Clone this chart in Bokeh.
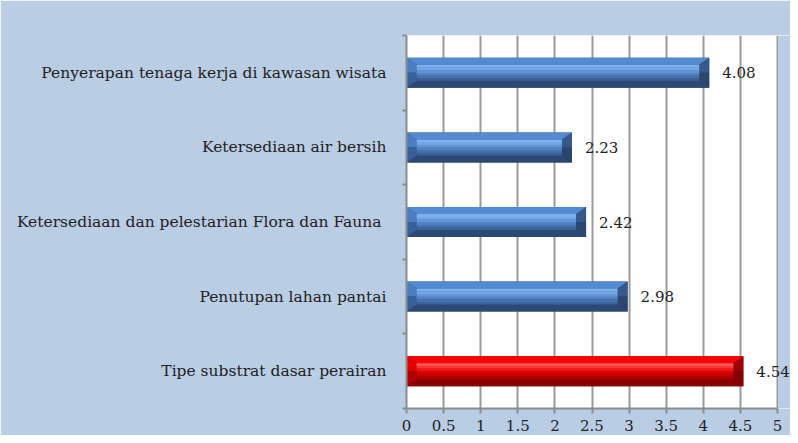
from bokeh.plotting import figure
from bokeh.models import (FixedTicker, NumeralTickFormatter, CustomJSTickFormatter,
                          Range1d, ColumnDataSource)
from bokeh.embed import file_html
from bokeh.resources import INLINE
from bokeh.core.properties import value

# ---------------- data ----------------
categories = [
    "Tipe substrat dasar perairan",
    "Penutupan lahan pantai",
    "Ketersediaan dan pelestarian Flora dan Fauna ",
    "Ketersediaan air bersih",
    "Penyerapan tenaga kerja di kawasan wisata",
]
scores = [4.54, 2.98, 2.42, 2.23, 4.08]
x_ticks = [0, 0.5, 1, 1.5, 2, 2.5, 3, 3.5, 4, 4.5, 5]
highlighted = [True, False, False, False, False]

# ---------------- styles ----------------
FONT = "DejaVu Serif"
BG = "#b9cde5"
W, H = 790, 435
ML, MT, MB = 406, 35, 27
AXIS_RIGHT_PX = 777          # where x = 5 sits
XMAX = 5.0
NCAT = len(categories)
PX_X = (AXIS_RIGHT_PX - ML) / XMAX
FW = W - ML
XR = FW / PX_X               # range end so frame reaches the right edge
FH = H - MT - MB
PX_Y = FH / NCAT
HALF = 15 / PX_Y
BX = 10 / PX_X
BY = 7 / PX_Y

blue = dict(base="#2c4973", top="#528bd2", bottom="#2c4973",
            left_u="#4a7ec2", left_l="#36609a",
            right_u="#36598b", right_l="#2a466e",
            face=["#7cb0ee", "#72a6e6", "#6296d6", "#5283c3", "#4672ad", "#3b6299"])
red = dict(base="#870000", top="#fa0000", bottom="#870000",
           left_u="#e00000", left_l="#b00000",
           right_u="#a00000", right_l="#850000",
           face=["#ff5a5a", "#ff3434", "#f41414", "#dc0000", "#c40000", "#ac0000"])

xs, ys, cols = [], [], []


def add(px, py, c):
    xs.append(px)
    ys.append(py)
    cols.append(c)


for i, (v, hl) in enumerate(zip(scores, highlighted)):
    pal = red if hl else blue
    c = i + 0.5
    y0, y1 = c - HALF, c + HALF
    add([0, v, v, 0], [y0, y0, y1, y1], pal["base"])
    add([0, v, v - BX, BX], [y1, y1, y1 - BY, y1 - BY], pal["top"])
    add([0, v, v - BX, BX], [y0, y0, y0 + BY, y0 + BY], pal["bottom"])
    add([0, 0, BX, BX], [c, y1, y1 - BY, c], pal["left_u"])
    add([0, 0, BX, BX], [y0, c, c, y0 + BY], pal["left_l"])
    add([v, v, v - BX, v - BX], [c, y1, y1 - BY, c], pal["right_u"])
    add([v, v, v - BX, v - BX], [y0, c, c, y0 + BY], pal["right_l"])
    fy1, fy0 = y1 - BY, y0 + BY
    n = len(pal["face"])
    step = (fy1 - fy0) / n
    for k, fc in enumerate(pal["face"]):
        ta = fy1 - k * step
        tb = fy1 - (k + 1) * step - (0.004 if k < n - 1 else 0)
        add([BX, v - BX, v - BX, BX], [tb, tb, ta, ta], fc)

p = figure(width=W, height=H, output_backend="svg", toolbar_location=None,
           x_range=Range1d(0, XR), y_range=Range1d(0, NCAT),
           min_border_left=ML, min_border_right=0, min_border_top=MT,
           min_border_bottom=MB)
p.border_fill_color = BG
p.background_fill_color = "white"
p.outline_line_color = None

# blue strip to the right of the plot area (x beyond 5)
p.quad(left=[XMAX + 1.2 / PX_X], right=[XR + 1], bottom=[0], top=[NCAT],
       fill_color=BG, line_color=None)

p.patches(xs=xs, ys=ys, fill_color=cols, line_color=None)

labels_src = ColumnDataSource(dict(x=scores, y=[i + 0.5 for i in range(NCAT)],
                                   t=[f"{v:.2f}" for v in scores]))
p.text(x="x", y="y", text="t", source=labels_src, x_offset=13,
       text_baseline="middle", text_align="left", text_font=value(FONT),
       text_font_size="15px", text_color="#222222")

# x axis
xa = p.xaxis[0]
xa.bounds = (0, XMAX)
xa.ticker = FixedTicker(ticks=x_ticks)
xa.formatter = NumeralTickFormatter(format="0.[0]")
xa.axis_line_color = "#8c8c8c"
xa.axis_line_width = 2
xa.major_tick_line_color = "#8c8c8c"
xa.major_tick_line_width = 2
xa.major_tick_out = 5
xa.major_tick_in = 0
xa.minor_tick_line_color = None
xa.major_label_text_font = FONT
xa.major_label_text_font_size = "15px"
xa.major_label_text_color = "#222222"
xa.major_label_standoff = 6

# y axis
ya = p.yaxis[0]
ya.ticker = FixedTicker(ticks=[i + 0.5 for i in range(NCAT)],
                        minor_ticks=list(range(NCAT + 1)))
ya.formatter = CustomJSTickFormatter(args=dict(labels=categories),
                                     code="return labels[Math.round(tick - 0.5)];")
ya.axis_line_color = "#8c8c8c"
ya.axis_line_width = 2
ya.major_tick_line_color = None
ya.major_tick_out = 0
ya.major_tick_in = 0
ya.minor_tick_line_color = "#8c8c8c"
ya.minor_tick_line_width = 2
ya.minor_tick_out = 4
ya.minor_tick_in = 0
ya.major_label_text_font = FONT
ya.major_label_text_font_size = "15.5px"
ya.major_label_text_color = "#222222"
ya.major_label_standoff = 16

p.xgrid.ticker = FixedTicker(ticks=x_ticks)
p.xgrid.grid_line_color = "#9a9a9a"
p.xgrid.grid_line_width = 2
p.ygrid.grid_line_color = None

open("out.html", "w").write(file_html(p, INLINE))
